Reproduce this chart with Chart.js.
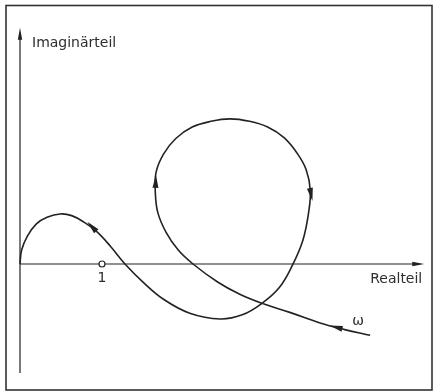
<!DOCTYPE html>
<html>
<head>
<meta charset="utf-8">
<script src="https://cdn.jsdelivr.net/npm/chart.js@4/dist/chart.umd.min.js"></script>
<style>
  html, body { margin: 0; padding: 0; background: #fff; }
  #wrap { width: 435px; height: 392px; }
</style>
</head>
<body>
<div id="wrap"><canvas id="ortskurve" width="435" height="392"></canvas></div>
<script>
// ── Ortskurve (Einheit: Realteil 1 = markierter Punkt) ──
const kurveX = [0, 0.02, 0.09, 0.20, 0.33, 0.49, 0.63, 0.78, 0.93, 1.10, 1.28, 1.50, 1.75, 2.07, 2.44, 2.71, 2.95, 3.16, 3.32,
  3.45, 3.52, 3.54, 3.49, 3.38, 3.22, 3.02, 2.80, 2.56, 2.33, 2.10, 1.90, 1.75, 1.66, 1.65, 1.68, 1.78, 1.93, 2.11,
  2.41, 2.68, 2.95, 3.29, 3.66, 3.96, 4.27];
const kurveY = [0, 0.17, 0.34, 0.49, 0.57, 0.61, 0.59, 0.51, 0.40, 0.22, 0, -0.22, -0.43, -0.60, -0.67, -0.62, -0.48, -0.29, -0.02,
  0.29, 0.63, 0.90, 1.15, 1.35, 1.54, 1.67, 1.74, 1.77, 1.74, 1.67, 1.53, 1.34, 1.12, 0.88, 0.63, 0.39, 0.17, 0,
  -0.22, -0.37, -0.48, -0.59, -0.72, -0.80, -0.87];

// Pfeile auf der Kurve (Index entlang der Kurve, Pfeil zeigt zum Ursprung hin)
const pfeilAn = [8, 32.8, 21.1, 42.9];

// Punkt 1 auf der reellen Achse
const punktX = [1];
const punktY = [0];

// Achsen-Enden
const achseX = [0, 4.93];
const achseY = [-1.33, 2.88];

const achsenText = { real: 'Realteil', imag: 'Imaginärteil', eins: '1', omega: 'ω' };

// Pixel-Abbildung: 1 Einheit = 82 px, Ursprung bei (20, 264)
const EINHEIT = 82, OX = 20, OY = 264, W = 435, H = 392;
const TINTE = '#222';

const zeichnung = {
  id: 'zeichnung',
  beforeDatasetsDraw(chart) {
    const { ctx, scales: { x, y } } = chart;
    ctx.save();
    // Rahmen
    ctx.strokeStyle = '#333';
    ctx.lineWidth = 1.6;
    ctx.strokeRect(6, 5.5, 426, 384.5);
    // Achsen
    ctx.strokeStyle = TINTE;
    ctx.lineWidth = 1.2;
    const x0 = x.getPixelForValue(0), y0 = y.getPixelForValue(0);
    ctx.beginPath();
    ctx.moveTo(x.getPixelForValue(achseX[0]), y0);
    ctx.lineTo(x.getPixelForValue(achseX[1]) - 6, y0);
    ctx.moveTo(x0, y.getPixelForValue(achseY[0]));
    ctx.lineTo(x0, y.getPixelForValue(achseY[1]) + 6);
    ctx.stroke();
    ctx.fillStyle = TINTE;
    const xe = x.getPixelForValue(achseX[1]), ye = y.getPixelForValue(achseY[1]);
    ctx.beginPath();
    ctx.moveTo(xe, y0); ctx.lineTo(xe - 12, y0 - 2.2); ctx.lineTo(xe - 12, y0 + 2.2); ctx.closePath();
    ctx.moveTo(x0, ye); ctx.lineTo(x0 - 2.2, ye + 12); ctx.lineTo(x0 + 2.2, ye + 12); ctx.closePath();
    ctx.fill();
    ctx.restore();
  },
  afterDatasetsDraw(chart) {
    const { ctx, scales: { x, y } } = chart;
    const px = i => [x.getPixelForValue(kurveX[i]), y.getPixelForValue(kurveY[i])];
    ctx.save();
    ctx.fillStyle = TINTE;
    pfeilAn.forEach(f => {
      const i = Math.floor(f), t = f - i;
      const a = px(i), b = px(i + 1);
      const bx = a[0] + (b[0] - a[0]) * t, by = a[1] + (b[1] - a[1]) * t;
      let dx = a[0] - b[0], dy = a[1] - b[1];
      const len = Math.hypot(dx, dy) || 1;
      dx /= len; dy /= len;
      const tx = bx + dx * 13, ty = by + dy * 13;
      ctx.beginPath();
      ctx.moveTo(tx, ty);
      ctx.lineTo(bx - dy * 3, by + dx * 3);
      ctx.lineTo(bx + dy * 3, by - dx * 3);
      ctx.closePath();
      ctx.fill();
    });
    // Beschriftung
    ctx.fillStyle = '#2e2e2e';
    ctx.font = '14px "DejaVu Sans"';
    ctx.textBaseline = 'middle';
    ctx.textAlign = 'left';
    ctx.fillText(achsenText.imag, x.getPixelForValue(0) + 12, y.getPixelForValue(achseY[1]) + 16);
    ctx.textAlign = 'right';
    ctx.fillText(achsenText.real, x.getPixelForValue(achseX[1]) - 2, y.getPixelForValue(0) + 15);
    ctx.textAlign = 'center';
    ctx.fillText(achsenText.eins, x.getPixelForValue(punktX[0]), y.getPixelForValue(punktY[0]) + 14);
    ctx.fillText(achsenText.omega, x.getPixelForValue(kurveX[kurveX.length - 1]) - 12, y.getPixelForValue(kurveY[kurveY.length - 1]) - 14);
    ctx.restore();
  }
};

new Chart(document.getElementById('ortskurve'), {
  type: 'scatter',
  data: {
    datasets: [
      {
        label: 'Ortskurve',
        data: kurveX.map((v, i) => ({ x: v, y: kurveY[i] })),
        showLine: true,
        borderColor: TINTE,
        borderWidth: 1.6,
        pointRadius: 0,
        pointHoverRadius: 0,
        tension: 0.4,
        fill: false
      },
      {
        label: 'Punkt 1',
        data: punktX.map((v, i) => ({ x: v, y: punktY[i] })),
        pointRadius: 3,
        pointHoverRadius: 3,
        pointBorderWidth: 1.2,
        pointBackgroundColor: '#fff',
        pointBorderColor: TINTE
      }
    ]
  },
  options: {
    responsive: false,
    animation: false,
    layout: { padding: 0, autoPadding: false },
    plugins: { legend: { display: false }, tooltip: { enabled: false } },
    scales: {
      x: { type: 'linear', display: false, min: -OX / EINHEIT, max: (W - OX) / EINHEIT },
      y: { type: 'linear', display: false, min: -(H - OY) / EINHEIT, max: OY / EINHEIT }
    }
  },
  plugins: [zeichnung]
});
</script>
</body>
</html>
